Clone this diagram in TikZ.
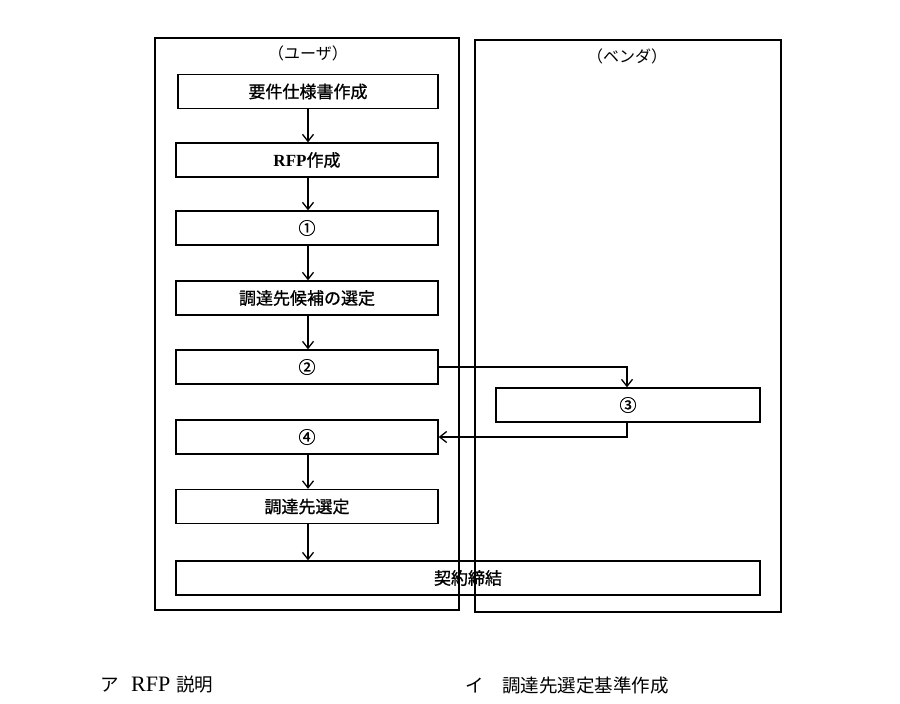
\documentclass[tikz,border=0pt]{standalone}
\usepackage{fontspec}
\setmainfont{Liberation Serif}
\newfontfamily\jp[FakeBold=1]{Noto Sans CJK JP}
\newfontfamily\jpn{Noto Sans CJK JP}
\usetikzlibrary{arrows.meta}
\begin{document}
\begin{tikzpicture}[x=1pt,y=-1pt,line width=1.3pt,
  lanebox/.style={draw,inner sep=0pt},
  stepbox/.style={draw,inner sep=0pt,minimum height=34pt,font=\jp\fontsize{17}{17}\selectfont},
  title/.style={font=\jpn\fontsize{16}{16}\selectfont,inner sep=0pt},
  ans/.style={font=\jpn\fontsize{18.5}{18.5}\selectfont,inner sep=0pt,anchor=west},
  arr/.style={-{Straight Barb[length=7pt,width=11pt]}}]
\useasboundingbox (0,0) rectangle (900,704);
% lanes
\node[lanebox,minimum width=304pt,minimum height=572pt] (ul) at (307,324) {};
\node[lanebox,minimum width=306pt,minimum height=572pt] (vl) at (628,326) {};
\node[title] (ut) at (308,53) {（ユーザ）};
\node[title] (vt) at (627,56) {（ベンダ）};
% steps
\node[stepbox,minimum width=260pt] (s1) at (308,91.5) {要件仕様書作成};
\node[stepbox,minimum width=262pt] (s2) at (307,160) {{\rmfamily\bfseries RFP}作成};
\node[stepbox,minimum width=262pt] (s3) at (307,228) {①};
\node[stepbox,minimum width=262pt] (s4) at (307,298) {調達先候補の選定};
\node[stepbox,minimum width=262pt] (s5) at (307,367) {②};
\node[stepbox,minimum width=264pt] (s6) at (628,405) {③};
\node[stepbox,minimum width=262pt] (s7) at (307,437) {④};
\node[stepbox,minimum width=262pt] (s8) at (307,506.5) {調達先選定};
\node[stepbox,minimum width=584pt] (s9) at (468,578) {契約締結};
% connectors
\draw[arr] (s1.south -| 308,0) -- (s2.north -| 308,0);
\draw[arr] (s2.south -| 308,0) -- (s3.north -| 308,0);
\draw[arr] (s3.south -| 308,0) -- (s4.north -| 308,0);
\draw[arr] (s4.south -| 308,0) -- (s5.north -| 308,0);
\draw[arr] (s5.east) -| (s6.north -| 627,0);
\draw[arr] (s6.south -| 627,0) |- (s7.east);
\draw[arr] (s7.south -| 308,0) -- (s8.north -| 308,0);
\draw[arr] (s8.south -| 308,0) -- (s9.north -| 308,0);
% answer choices
\node[ans] (a1) at (100,685) {ア\hspace{12pt}{\rmfamily\fontsize{22}{22}\selectfont RFP}\hspace{6pt}説明};
\node[ans] (a2) at (465,685) {イ\hspace{18pt}調達先選定基準作成};
\end{tikzpicture}
\end{document}
